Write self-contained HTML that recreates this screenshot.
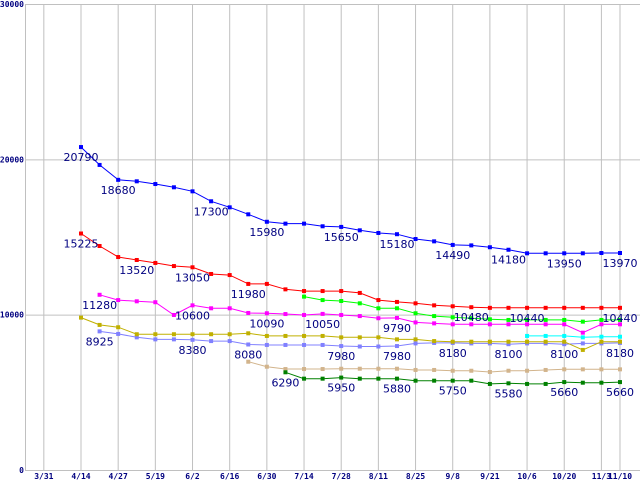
<!DOCTYPE html>
<html><head><meta charset="utf-8"><style>
html,body{margin:0;padding:0;background:#fff;}
svg{display:block;}
.tk{font-family:"DejaVu Sans Mono","Liberation Mono",monospace;font-size:8px;font-weight:bold;fill:#000080;}
.lb{font-family:"DejaVu Sans","Liberation Sans",sans-serif;font-size:11px;fill:#000080;}
</style></head><body>
<svg id="chart" width="640" height="480" viewBox="0 0 640 480" xmlns="http://www.w3.org/2000/svg">
<g id="grid"></g>
<g id="series"></g>
<g id="labels"></g>
</svg>
<script>
const xTickLabels = ["3/31","4/14","4/27","5/19","6/2","6/16","6/30","7/14","7/28","8/11","8/25","9/8","9/21","10/6","10/20","11/3","11/10"];
const xTickPos = [-2,0,2,4,6,8,10,12,14,16,18,20,22,24,26,28,29];
const yTicks = [0,10000,20000,30000];
const N = null;
const blueVals = [20790,19640,18680,18585,18410,18200,17940,17300,16910,16460,15980,15860,15860,15690,15650,15430,15260,15180,14870,14720,14490,14460,14340,14180,13950,13950,13950,13950,13970,13970];
const redVals = [15225,14420,13710,13520,13330,13130,13050,12620,12550,11980,11980,11630,11520,11520,11520,11400,10940,10820,10730,10600,10540,10480,10440,10440,10440,10440,10440,10440,10440,10440];
const limeVals = [N,N,N,N,N,N,N,N,N,N,N,N,11160,10940,10880,10730,10410,10410,10090,9910,9830,9770,9700,9660,9660,9660,9660,9550,9660,9660];
const magentaVals = [N,11280,10940,10860,10800,9980,10600,10410,10410,10110,10090,10040,9980,10050,9980,9910,9770,9790,9500,9440,9380,9380,9380,9380,9380,9380,9380,8840,9380,9380];
const cyanVals = [N,N,N,N,N,N,N,N,N,N,N,N,N,N,N,N,N,N,N,N,N,N,N,N,8630,8630,8630,8540,8580,8580];
const oliveVals = [9810,9340,9190,8740,8740,8740,8740,8740,8740,8800,8630,8630,8630,8630,8540,8540,8540,8410,8410,8300,8260,8260,8260,8260,8260,8260,8260,7730,8260,8260];
const lavenderVals = [N,8925,8760,8540,8410,8410,8380,8300,8300,8080,8050,8050,8050,8050,7980,7950,7950,7980,8150,8180,8180,8150,8150,8100,8150,8150,8100,8150,8150,8180];
const tanVals = [N,N,N,N,N,N,N,N,N,6970,6650,6500,6500,6500,6520,6520,6520,6520,6440,6440,6390,6390,6310,6390,6390,6440,6480,6480,6480,6480];
const greenVals = [N,N,N,N,N,N,N,N,N,N,N,6290,5880,5880,5950,5880,5880,5880,5750,5750,5750,5750,5540,5580,5540,5540,5660,5620,5620,5660];
const blueLabelIdx = [0,2,7,10,14,17,20,23,26,29];
const redLabelIdx = [0,3,6,9,21,24,29];
const magentaLabelIdx = [1,6,10,13,17];
const lavenderLabelIdx = [1,6,9,14,17,20,23,26,29];
const greenLabelIdx = [11,14,17,20,23,26,29];

const NS="http://www.w3.org/2000/svg";
const X0=81, DX=18.586, Y0=470, YT=4, YMAX=30000, AXL=25;
function xs(i){return X0+i*DX;}
function ys(v){return Y0-(v/YMAX)*(Y0-YT);}
function mk(tag,parent){const e=document.createElementNS(NS,tag);parent.appendChild(e);return e;}
const grid=document.getElementById('grid'), ser=document.getElementById('series'), lab=document.getElementById('labels');

xTickPos.forEach((p,k)=>{
  const l=mk('line',grid);
  
  
  l.setAttribute('x1',xs(p));l.setAttribute('x2',xs(p));l.setAttribute('y1',YT);l.setAttribute('y2',Y0);
  l.setAttribute('stroke','#c0c0c0');
  const t=mk('text',grid);
  
  
  t.setAttribute('class','tk');t.setAttribute('x',xs(p));t.setAttribute('y',479);t.setAttribute('text-anchor','middle');
  t.textContent=xTickLabels[k];
});
yTicks.forEach(v=>{
  const l=mk('line',grid);
  
  
  l.setAttribute('x1',AXL);l.setAttribute('x2',640);l.setAttribute('y1',ys(v)+0.5);l.setAttribute('y2',ys(v)+0.5);
  l.setAttribute('stroke','#c0c0c0');
  const t=mk('text',grid);
  
  
  t.setAttribute('class','tk');t.setAttribute('x',AXL-1);t.setAttribute('y',ys(v)+3);t.setAttribute('text-anchor','end');
  t.textContent=String(v);
});
const ax=mk('line',grid);


ax.setAttribute('x1',AXL+0.5);ax.setAttribute('x2',AXL+0.5);ax.setAttribute('y1',YT);ax.setAttribute('y2',Y0);ax.setAttribute('stroke','#c0c0c0');

function drawSeries(name,vals,color,labelIdx){
  const g=mk('g',ser);
  
  
  let d='';let started=false;
  vals.forEach((v,i)=>{ if(v==null){started=false;return;} d+=(started?'L':'M')+xs(i).toFixed(1)+' '+ys(v).toFixed(1)+' '; started=true;});
  const p=mk('path',g);
  
  
  p.setAttribute('d',d);p.setAttribute('fill','none');p.setAttribute('stroke',color);p.setAttribute('stroke-width','1');
  vals.forEach((v,i)=>{ if(v==null)return;
    const r=mk('rect',g);
    
    
    r.setAttribute('x',xs(i)-2);r.setAttribute('y',ys(v)-2);r.setAttribute('width',4);r.setAttribute('height',4);r.setAttribute('fill',color);
  });
  (labelIdx||[]).forEach(i=>{ const v=vals[i]; if(v==null)return;
    const t=mk('text',lab);
    
    
    t.setAttribute('class','lb');t.setAttribute('x',xs(i));t.setAttribute('y',ys(v)+14);t.setAttribute('text-anchor','middle');
    t.textContent=String(v);
  });
}
drawSeries('tan-series',tanVals,'#d2b48c');
drawSeries('green-series',greenVals,'#008000',greenLabelIdx);
drawSeries('lavender-series',lavenderVals,'#8080ff',lavenderLabelIdx);
drawSeries('olive-series',oliveVals,'#c0b000');
drawSeries('cyan-series',cyanVals,'#00ffff');
drawSeries('magenta-series',magentaVals,'#ff00ff',magentaLabelIdx);
drawSeries('lime-series',limeVals,'#00ff00');
drawSeries('red-series',redVals,'#ff0000',redLabelIdx);
drawSeries('blue-series',blueVals,'#0000ff',blueLabelIdx);
</script>
</body></html>
